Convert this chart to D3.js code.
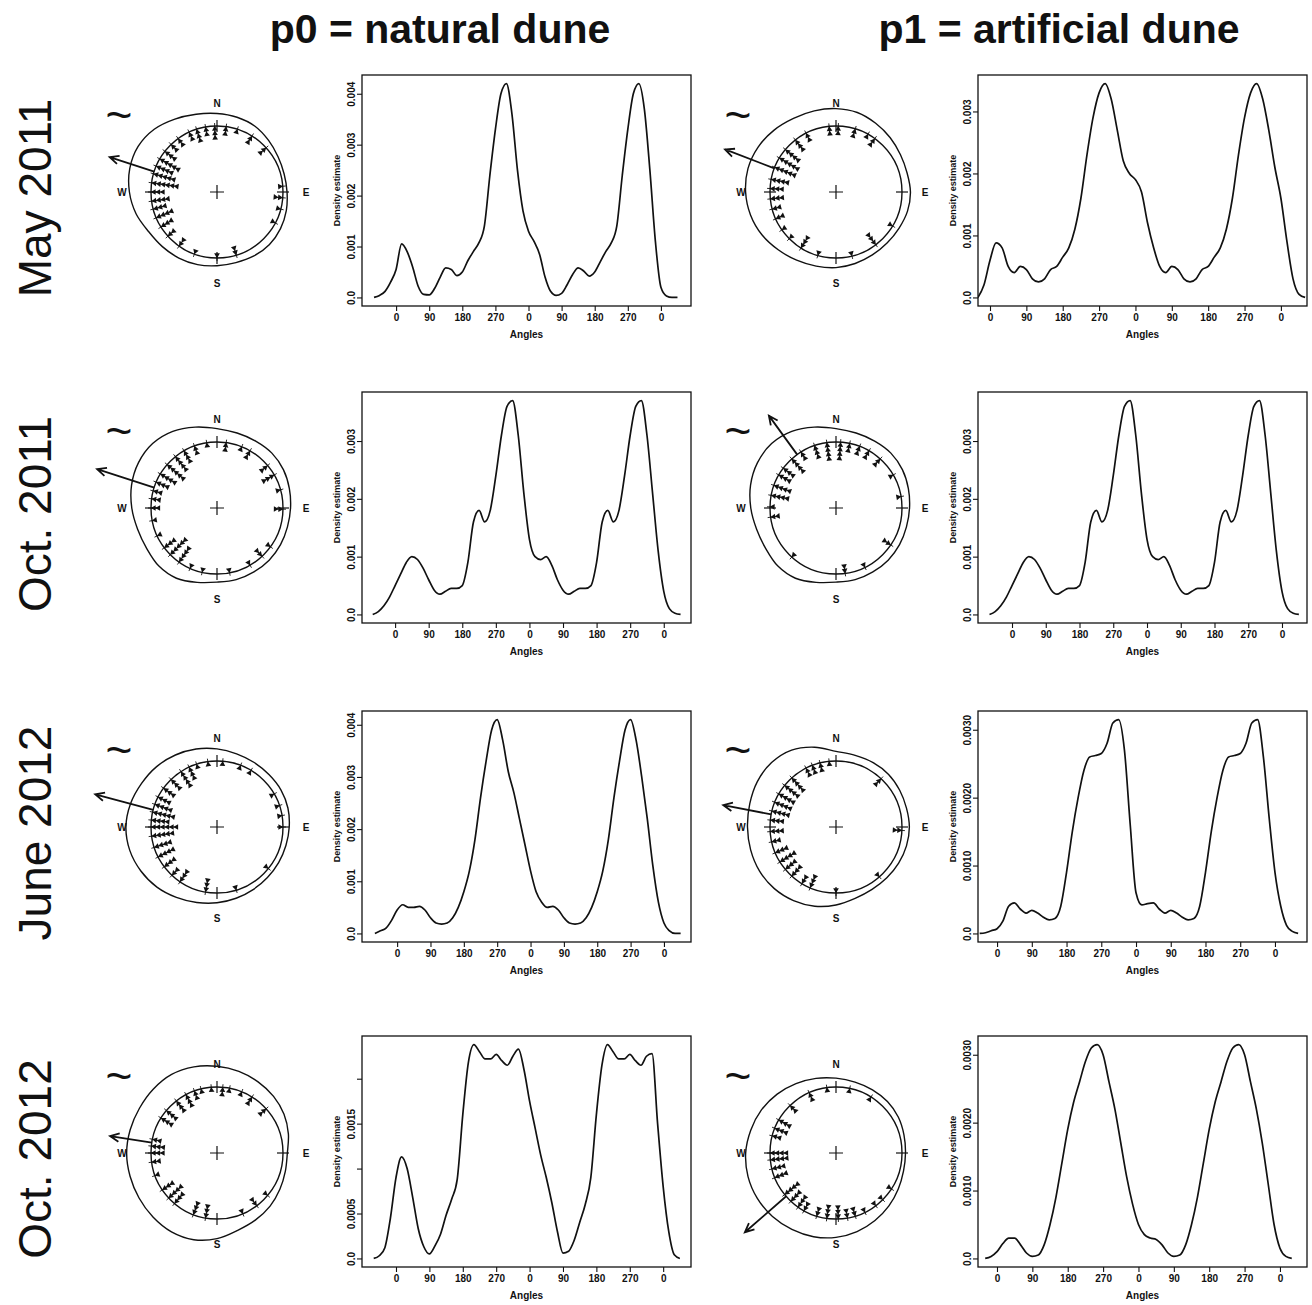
<!DOCTYPE html>
<html>
<head>
<meta charset="utf-8">
<script src="https://cdn.jsdelivr.net/npm/d3@7"></script>
<style>
  html, body { margin: 0; padding: 0; background: #fff; }
  svg { display: block; font-family: "Liberation Sans", Arial, sans-serif; }
</style>
</head>
<body>
<svg id="chart" width="1312" height="1305"></svg>
<script>
// ---- labels ----
const rowLabels = ["May 2011", "Oct. 2011", "June 2012", "Oct. 2012"];
const groupLabels = ["p0 = natural dune", "p1 = artificial dune"];
const compassLabels = ["N", "E", "S", "W"];
const angleTicks = [0, 90, 180, 270, 360, 450, 540, 630, 720];
const angleTickLabels = ["0", "90", "180", "270", "0", "90", "180", "270", "0"];

// ---- density estimates, one value every 15 degrees ----
const densStep = 15;
const densStart = [[-60, -30], [-60, -60], [-60, -45], [-60, -30]];

const densMay2011P0 = [0, 0.00004, 0.00012, 0.0003, 0.00055, 0.00105, 0.0009, 0.0006, 0.00022, 0.00006,
  0.00005, 0.00018, 0.0004, 0.00058, 0.00055, 0.00043, 0.0005, 0.00072, 0.0009, 0.00107,
  0.0014, 0.0024, 0.0033, 0.004, 0.0042, 0.0036, 0.0025, 0.0017, 0.0013, 0.0011,
  0.00085, 0.0004, 0.00012, 0.00004, 0.00008, 0.00025, 0.00045, 0.00058, 0.00052, 0.00042,
  0.0005, 0.0007, 0.0009, 0.00107, 0.0014, 0.0024, 0.0033, 0.004, 0.0042, 0.0037,
  0.0025, 0.0011, 0.0002, 0.00003, 0, 0];
const densMay2011P1 = [0, 0.0002, 0.0006, 0.00088, 0.0008, 0.0005, 0.0004, 0.0005,
  0.00045, 0.0003, 0.00025, 0.0003, 0.00045, 0.0005, 0.00065, 0.0008, 0.0011, 0.0016,
  0.0023, 0.0029, 0.0033, 0.00345, 0.0032, 0.0027, 0.0022, 0.002, 0.0019, 0.0017,
  0.0012, 0.0008, 0.0005, 0.0004, 0.0005, 0.00045, 0.0003, 0.00025, 0.0003, 0.00045,
  0.0005, 0.00065, 0.0008, 0.0011, 0.0016, 0.0023, 0.0029, 0.0033, 0.00345, 0.0032,
  0.0027, 0.0021, 0.0016, 0.0009, 0.0003, 0.00005, 0];
const densOct2011P0 = [0, 0.00005, 0.00015, 0.0003, 0.0005, 0.0007, 0.0009, 0.001, 0.00095, 0.0008,
  0.0006, 0.00042, 0.00035, 0.0004, 0.00045, 0.00045, 0.0005, 0.0009, 0.0016, 0.0018,
  0.0016, 0.0018, 0.0024, 0.0031, 0.0036, 0.0037, 0.0031, 0.0021, 0.0013, 0.001,
  0.00095, 0.001, 0.00085, 0.0006, 0.00042, 0.00035, 0.0004, 0.00045, 0.00045, 0.0005,
  0.0009, 0.0016, 0.0018, 0.0016, 0.0018, 0.0024, 0.0031, 0.0036, 0.0037, 0.0031,
  0.0021, 0.0011, 0.0004, 0.0001, 0.00002, 0];
// the source figure shows the same curve for both dunes in Oct. 2011
const densOct2011P1 = densOct2011P0.slice();
const densJun2012P0 = [0, 0.00005, 0.0001, 0.00025, 0.00045, 0.00055, 0.0005, 0.0005, 0.00052, 0.00045,
  0.0003, 0.0002, 0.00018, 0.0002, 0.0003, 0.0005, 0.0008, 0.0012, 0.0018, 0.0026,
  0.0033, 0.0039, 0.0041, 0.0037, 0.0031, 0.0027, 0.0022, 0.0017, 0.0012, 0.0008,
  0.0006, 0.0005, 0.00052, 0.00045, 0.0003, 0.0002, 0.00018, 0.0002, 0.0003, 0.0005,
  0.0008, 0.0012, 0.0018, 0.0026, 0.0033, 0.0039, 0.0041, 0.0037, 0.003, 0.0022,
  0.0013, 0.0006, 0.0002, 0.00005, 0, 0];
const densJun2012P1 = [0, 0.00001, 0.00004, 0.00007, 0.00018, 0.0004, 0.00045, 0.00036, 0.0003, 0.00034,
  0.0003, 0.00024, 0.0002, 0.00022, 0.0004, 0.0009, 0.0015, 0.002, 0.0024, 0.0026,
  0.00262, 0.00265, 0.0028, 0.0031, 0.00315, 0.0027, 0.0016, 0.0006, 0.00042, 0.00044,
  0.00045, 0.00036, 0.0003, 0.00034, 0.0003, 0.00024, 0.0002, 0.00022, 0.0004, 0.0009,
  0.0015, 0.002, 0.0024, 0.0026, 0.00262, 0.00265, 0.0028, 0.0031, 0.00315, 0.0026,
  0.0017, 0.0009, 0.0004, 0.00012, 0.00003, 0];
const densOct2012P0 = [0, 0.00003, 0.00012, 0.00045, 0.0009, 0.00113, 0.001, 0.00068, 0.00033, 0.00013,
  0.00005, 0.00014, 0.00027, 0.00048, 0.00066, 0.00088, 0.0016, 0.00218, 0.00238, 0.0023,
  0.00222, 0.00222, 0.00227, 0.0022, 0.00215, 0.00225, 0.00233, 0.0021, 0.00175, 0.00145,
  0.00115, 0.0009, 0.00062, 0.0003, 0.00006, 0.00008, 0.0002, 0.0004, 0.0006, 0.0009,
  0.0016, 0.00215, 0.00238, 0.0023, 0.00222, 0.00222, 0.00227, 0.0022, 0.00215, 0.00225,
  0.00228, 0.0015, 0.0008, 0.0003, 0.00004, 0];
const densOct2012P1 = [0, 0.00003, 0.0001, 0.00022, 0.0003, 0.0003, 0.0002, 0.00008, 0.00003, 0.00005,
  0.0002, 0.0005, 0.0009, 0.0014, 0.0019, 0.0023, 0.0026, 0.0029, 0.0031, 0.00315,
  0.003, 0.0026, 0.0022, 0.0017, 0.0012, 0.0008, 0.0005, 0.00035, 0.0003, 0.00028,
  0.0002, 0.00008, 0.00003, 0.00005, 0.0002, 0.0005, 0.0009, 0.0014, 0.0019, 0.0023,
  0.0026, 0.0029, 0.0031, 0.00315, 0.003, 0.0026, 0.0022, 0.0017, 0.0011, 0.0005,
  0.00015, 0.00003, 0];

const densities = [
  [densMay2011P0, densMay2011P1],
  [densOct2011P0, densOct2011P1],
  [densJun2012P0, densJun2012P1],
  [densOct2012P0, densOct2012P1]
];

// angle axis ranges (degrees) of each density panel
const angleDomains = [
  [[-92.7, 801.8], [-29.7, 784.6]],
  [[-88.7, 793], [-90.7, 786.7]],
  [[-94.8, 793], [-49.4, 803]],
  [[-91.6, 795], [-48.3, 788.8]]
];
const densTicks = [
  [[0, 0.001, 0.002, 0.003, 0.004], [0, 0.001, 0.002, 0.003]],
  [[0, 0.001, 0.002, 0.003], [0, 0.001, 0.002, 0.003]],
  [[0, 0.001, 0.002, 0.003, 0.004], [0, 0.001, 0.002, 0.003]],
  [[0, 0.0005, 0.001, 0.0015, 0.002], [0, 0.001, 0.002, 0.003]]
];
const densTickLabels = [
  [["0.0", "0.001", "0.002", "0.003", "0.004"], ["0.0", "0.001", "0.002", "0.003"]],
  [["0.0", "0.001", "0.002", "0.003"], ["0.0", "0.001", "0.002", "0.003"]],
  [["0.0", "0.001", "0.002", "0.003", "0.004"], ["0.0", "0.0010", "0.0020", "0.0030"]],
  [["0.0", "0.0005", "", "0.0015", ""], ["0.0", "0.0010", "0.0020", "0.0030"]]
];

// ---- observed directions: [compass angle, stacked count] ----
const ptsMay2011P0 = [[335, 2], [342, 3], [350, 2], [358, 3], [8, 2], [18, 1], [32, 2], [48, 2], [85, 1], [95, 2],
  [105, 1], [118, 1], [163, 2], [180, 1], [200, 1], [215, 2], [228, 2], [238, 3], [247, 4], [255, 3],
  [262, 4], [270, 3], [278, 6], [286, 5], [293, 4], [300, 5], [308, 3], [316, 2], [324, 2]];
const ptsMay2011P1 = [[354, 2], [2, 2], [17, 2], [29, 1], [36, 2], [121, 1], [143, 3], [166, 1], [196, 1], [212, 3],
  [225, 1], [235, 1], [246, 2], [255, 2], [264, 3], [273, 3], [281, 4], [292, 5], [301, 5], [310, 4],
  [322, 3], [333, 2]];
const ptsOct2011P0 = [[340, 2], [351, 1], [8, 2], [22, 1], [30, 2], [50, 2], [60, 3], [74, 1], [91, 2], [126, 1],
  [137, 2], [150, 1], [169, 1], [193, 1], [204, 1], [215, 4], [225, 5], [233, 3], [245, 1], [259, 1],
  [270, 2], [278, 2], [285, 2], [293, 3], [301, 4], [311, 5], [321, 4], [330, 3]];
const ptsOct2011P1 = [[352, 4], [4, 4], [12, 2], [21, 2], [30, 2], [42, 2], [60, 1], [80, 1], [124, 2], [154, 1],
  [172, 2], [222, 1], [262, 2], [271, 1], [281, 4], [290, 4], [300, 3], [307, 3], [318, 4], [328, 2],
  [341, 3]];
const ptsJun2012P0 = [[352, 1], [5, 1], [21, 1], [31, 1], [60, 1], [71, 1], [80, 1], [90, 1], [129, 1], [163, 1],
  [190, 3], [214, 3], [223, 2], [233, 3], [243, 4], [252, 4], [262, 5], [270, 6], [276, 4], [283, 5],
  [290, 4], [297, 3], [306, 3], [316, 3], [327, 4], [335, 3], [342, 1]];
const ptsJun2012P1 = [[354, 1], [346, 2], [339, 2], [333, 2], [318, 4], [309, 4], [300, 4], [292, 4], [284, 4], [276, 3],
  [266, 3], [257, 2], [247, 3], [238, 4], [230, 3], [222, 3], [211, 2], [203, 3], [180, 1], [139, 1],
  [93, 2], [43, 2]];
const ptsOct2012P0 = [[355, 1], [5, 2], [11, 1], [22, 1], [32, 2], [48, 2], [130, 1], [143, 2], [157, 1], [190, 3],
  [201, 3], [220, 3], [227, 4], [236, 3], [250, 1], [262, 2], [270, 3], [276, 3], [282, 2], [302, 3],
  [310, 3], [322, 3], [332, 3], [340, 2], [346, 1]];
const ptsOct2012P1 = [[352, 1], [12, 1], [32, 1], [336, 2], [316, 2], [300, 3], [292, 3], [285, 2], [270, 4], [264, 4],
  [256, 3], [248, 3], [231, 4], [223, 3], [215, 3], [209, 2], [197, 2], [188, 3], [178, 3], [170, 2],
  [163, 2], [154, 1], [143, 1], [135, 1], [123, 1]];

const points = [
  [ptsMay2011P0, ptsMay2011P1],
  [ptsOct2011P0, ptsOct2011P1],
  [ptsJun2012P0, ptsJun2012P1],
  [ptsOct2012P0, ptsOct2012P1]
];

// mean direction (compass degrees) and resultant length
const arrowDir = [[288, 291], [288, 324], [285, 281], [279, 229]];
const arrowRho = [[0.71, 0.8], [0.91, 0.73], [0.91, 0.74], [0.64, 0.83]];

// ---- layout ----
const R = 66;
const circleX = [217, 836];
const circleY = [192, 508, 827, 1153];
const boxX = [362, 978];
const boxTop = [75, 392, 711, 1036];
const boxW = 329, boxH = 231;
const ink = "#111";

const svg = d3.select("#chart");
const rad = a => a * Math.PI / 180;
const polar = (a, r) => [r * Math.sin(rad(a)), -r * Math.cos(rad(a))];

// column headers
svg.selectAll("text.header")
  .data(groupLabels)
  .join("text")
  .attr("class", "header")
  .attr("x", (d, i) => [440, 1059][i])
  .attr("y", 43)
  .attr("text-anchor", "middle")
  .attr("font-size", 41)
  .attr("font-weight", "bold")
  .attr("fill", ink)
  .text(d => d);

// row labels
svg.selectAll("text.rowlab")
  .data(rowLabels)
  .join("text")
  .attr("class", "rowlab")
  .attr("transform", (d, i) => `translate(51,${circleY[i] + 6}) rotate(-90)`)
  .attr("text-anchor", "middle")
  .attr("font-size", 46)
  .attr("fill", ink)
  .text(d => d);

function drawCircle(r, c) {
  const g = svg.append("g").attr("transform", `translate(${circleX[c]},${circleY[r]})`);
  const vals = densities[r][c];
  const start = densStart[r][c];

  // circular density drawn around the unit circle
  const ring = d3.range(0, 360, densStep).map(a => ({
    a: a,
    v: vals[((a < 180 ? a + 360 : a) - start) / densStep]
  }));
  const rScale = d3.scalePow().exponent(0.7)
    .domain([0, d3.max(vals)])
    .range([R * 1.04, R * 1.38]);
  g.append("path")
    .attr("d", d3.lineRadial()
      .angle(d => rad(d.a))
      .radius(d => rScale(d.v))
      .curve(d3.curveCatmullRomClosed)(ring))
    .attr("fill", "none")
    .attr("stroke", ink)
    .attr("stroke-width", 1.4);

  g.append("circle")
    .attr("r", R)
    .attr("fill", "none")
    .attr("stroke", ink)
    .attr("stroke-width", 1.4);

  // main ticks at N, E, S, W
  [0, 90, 180, 270].forEach(a => {
    const p = polar(a, R - 6), q = polar(a, R + 6);
    g.append("line").attr("x1", p[0]).attr("y1", p[1]).attr("x2", q[0]).attr("y2", q[1])
      .attr("stroke", ink).attr("stroke-width", 1.2);
  });

  // stacked points
  const step = 4.5;
  const tri = d3.symbol().type(d3.symbolTriangle).size(14);
  points[r][c].forEach(([a, n]) => {
    const p = polar(a, R + 3), q = polar(a, R - 3 - (n - 1) * step);
    g.append("line").attr("x1", p[0]).attr("y1", p[1]).attr("x2", q[0]).attr("y2", q[1])
      .attr("stroke", ink).attr("stroke-width", 0.9);
    d3.range(n).forEach(j => {
      const m = polar(a, R - 3 - j * step);
      g.append("path")
        .attr("d", tri())
        .attr("transform", `translate(${m[0]},${m[1]}) rotate(${a})`)
        .attr("fill", ink);
    });
  });

  // centre cross
  g.append("path").attr("d", "M-7,0H7M0,-7V7").attr("stroke", ink).attr("stroke-width", 1.2);

  // compass letters
  const off = [[0, -89], [89, 0], [0, 91], [-95, 0]];
  compassLabels.forEach((t, i) => {
    g.append("text")
      .attr("x", off[i][0]).attr("y", off[i][1])
      .attr("dy", "0.35em")
      .attr("text-anchor", "middle")
      .attr("font-size", 10)
      .attr("font-weight", 600)
      .attr("fill", ink)
      .text(t);
  });

  // mean direction arrow
  const a = arrowDir[r][c];
  const p0 = polar(a, R), p1 = polar(a, R * (1 + arrowRho[r][c]));
  const h1 = polar(a + 180 - 25, 10), h2 = polar(a + 180 + 25, 10);
  g.append("path")
    .attr("d", `M${p0[0]},${p0[1]}L${p1[0]},${p1[1]}M${p1[0] + h1[0]},${p1[1] + h1[1]}L${p1[0]},${p1[1]}L${p1[0] + h2[0]},${p1[1] + h2[1]}`)
    .attr("fill", "none")
    .attr("stroke", ink)
    .attr("stroke-width", 1.8);

  // tilde mark
  g.append("text")
    .attr("x", -98).attr("y", -61)
    .attr("text-anchor", "middle")
    .attr("font-size", 46)
    .attr("fill", ink)
    .text("~");
}

function drawDensity(r, c) {
  const vals = densities[r][c];
  const start = densStart[r][c];
  const pts = vals.map((v, i) => [start + i * densStep, v]);
  const vmax = d3.max(vals);
  const x0 = boxX[c], y0 = boxTop[r];

  const x = d3.scaleLinear().domain(angleDomains[r][c]).range([x0, x0 + boxW]);
  const y = d3.scaleLinear().domain([-0.04 * vmax, 1.04 * vmax]).range([y0 + boxH, y0]);

  const g = svg.append("g");
  const id = `clip-${r}-${c}`;
  g.append("clipPath").attr("id", id)
    .append("rect").attr("x", x0).attr("y", y0).attr("width", boxW).attr("height", boxH);

  g.append("path")
    .datum(pts)
    .attr("clip-path", `url(#${id})`)
    .attr("d", d3.line().x(d => x(d[0])).y(d => y(d[1])).curve(d3.curveMonotoneX))
    .attr("fill", "none")
    .attr("stroke", ink)
    .attr("stroke-width", 1.7);

  g.append("rect")
    .attr("x", x0).attr("y", y0).attr("width", boxW).attr("height", boxH)
    .attr("fill", "none")
    .attr("stroke", ink)
    .attr("stroke-width", 1.3);

  const xa = g.append("g")
    .attr("transform", `translate(0,${y0 + boxH})`)
    .call(d3.axisBottom(x)
      .tickValues(angleTicks)
      .tickFormat((d, i) => angleTickLabels[i])
      .tickSize(5)
      .tickPadding(3));
  xa.select(".domain").remove();

  const ya = g.append("g")
    .attr("transform", `translate(${x0},0)`)
    .call(d3.axisLeft(y)
      .tickValues(densTicks[r][c])
      .tickFormat((d, i) => densTickLabels[r][c][i])
      .tickSize(5));
  ya.select(".domain").remove();
  ya.selectAll("text")
    .attr("transform", "rotate(-90)")
    .attr("x", 0)
    .attr("y", -7)
    .attr("dy", null)
    .attr("text-anchor", "middle");

  [xa, ya].forEach(ax => {
    ax.attr("font-family", null).attr("font-size", 10).attr("font-weight", "bold");
    ax.selectAll("line").attr("stroke", ink).attr("stroke-width", 1.1);
    ax.selectAll("text").attr("fill", ink);
  });

  g.append("text")
    .attr("transform", `translate(${x0 - 22},${y0 + boxH / 2}) rotate(-90)`)
    .attr("text-anchor", "middle")
    .attr("font-size", 9)
    .attr("font-weight", "bold")
    .attr("fill", ink)
    .text("Density estimate");

  g.append("text")
    .attr("x", x0 + boxW / 2)
    .attr("y", y0 + boxH + 32)
    .attr("text-anchor", "middle")
    .attr("font-size", 10)
    .attr("font-weight", "bold")
    .attr("fill", ink)
    .text("Angles");
}

rowLabels.forEach((_, r) => {
  [0, 1].forEach(c => {
    drawCircle(r, c);
    drawDensity(r, c);
  });
});
</script>
</body>
</html>
